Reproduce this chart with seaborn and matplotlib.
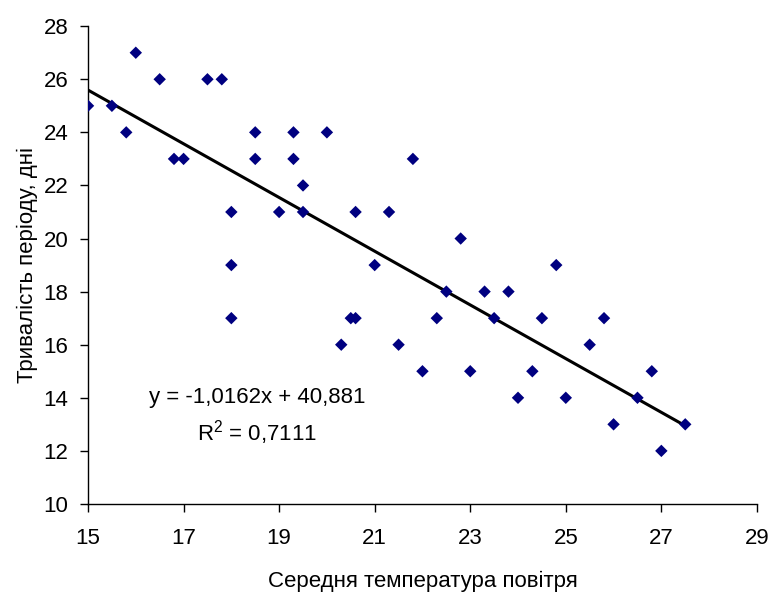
import numpy as np
import pandas as pd
import matplotlib
matplotlib.use("Agg")
import matplotlib.pyplot as plt
import seaborn as sns

# Середня температура повітря vs тривалість періоду
temp = [15, 15.5, 15.8, 16, 16.5, 16.8, 17, 17.5, 17.8, 18, 18, 18,
        18.5, 18.5, 19, 19.3, 19.3, 19.5, 19.5, 20, 20.3, 20.5, 20.6, 20.6,
        21, 21.3, 21.5, 21.8, 22, 22.3, 22.5, 22.8, 23, 23.3, 23.5, 23.8,
        24, 24.3, 24.5, 24.8, 25, 25.5, 25.8, 26, 26.5, 26.8, 27, 27.5]
days = [25, 25, 24, 27, 26, 23, 23, 26, 26, 21, 19, 17,
        24, 23, 21, 24, 23, 22, 21, 24, 16, 17, 17, 21,
        19, 21, 16, 23, 15, 17, 18, 20, 15, 18, 17, 18,
        14, 15, 17, 19, 14, 16, 17, 13, 14, 15, 12, 13]
eq_text = "y = -1,0162x + 40,881"
r2_text = "R$^2$ = 0,7111"

df = pd.DataFrame({"temp": temp, "days": days})

sns.set_style("ticks", {"text.color": "black", "axes.labelcolor": "black",
                        "xtick.color": "black", "ytick.color": "black",
                        "axes.edgecolor": "black"})
plt.rcParams["font.family"] = ["Liberation Sans", "DejaVu Sans"]
plt.rcParams["mathtext.fontset"] = "custom"
plt.rcParams["mathtext.rm"] = "Liberation Sans"

fig = plt.figure(figsize=(7.7, 5.95), dpi=100)
ax = fig.add_axes([0.1143, 0.153, 0.8687, 0.803])

sns.regplot(data=df, x="temp", y="days", ax=ax, ci=None, truncate=True,
            scatter=False, line_kws={"color": "black", "lw": 2.2})
sns.scatterplot(data=df, x="temp", y="days", ax=ax, marker="D", s=40,
                color="#000080", edgecolor="none", zorder=3)

ax.set_xlim(15, 29)
ax.set_ylim(10, 28)
ax.set_xticks(np.arange(15, 30, 2))
ax.set_yticks(np.arange(10, 29, 2))
ax.tick_params(labelsize=16, length=6, width=1, color="black", labelcolor="black")
ax.tick_params(axis="x", pad=11)
ax.tick_params(axis="y", pad=8)
for s in ["left", "bottom"]:
    ax.spines[s].set_linewidth(1)
sns.despine(ax=ax)

ax.set_xlabel("Середня температура повітря", fontsize=16, labelpad=16, color="black")
ax.set_ylabel("Тривалість періоду, дні", fontsize=16, labelpad=4, color="black")

fig.text(257 / 770, 1 - 397 / 595, eq_text, fontsize=16, ha="center", va="center")
fig.text(257 / 770, 1 - 433 / 595, r2_text, fontsize=16, ha="center", va="center")

fig.savefig("out.png", dpi=100)
